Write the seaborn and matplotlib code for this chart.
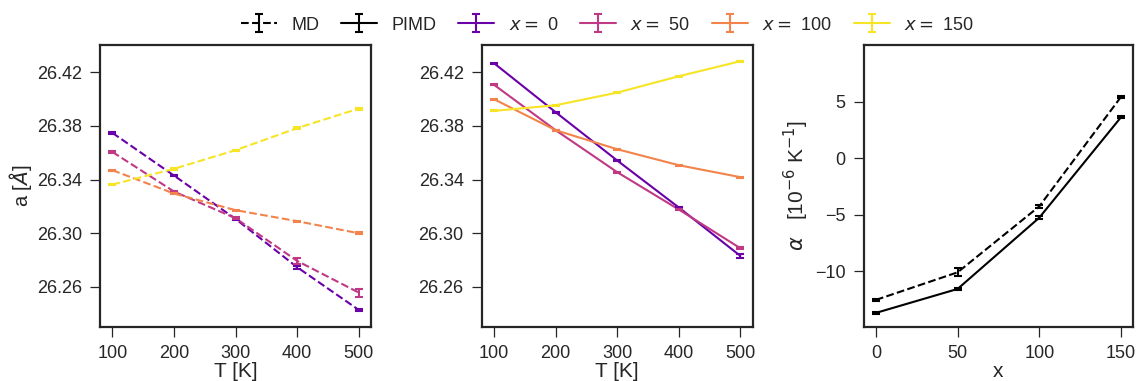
import numpy as np
import pandas as pd
import matplotlib
matplotlib.use("Agg")
import matplotlib.pyplot as plt
import seaborn as sns

# Temperatures and compositions
temps = [100, 200, 300, 400, 500]
compositions = [0, 50, 100, 150]

# Lattice parameter a [Å], classical MD
md_a = {
    0:   [26.3748, 26.3430, 26.3107, 26.2747, 26.2429],
    50:  [26.3606, 26.3311, 26.3112, 26.2794, 26.2558],
    100: [26.3470, 26.3296, 26.3172, 26.3090, 26.3000],
    150: [26.3363, 26.3480, 26.3619, 26.3783, 26.3929],
}
md_a_err = {
    0:   [0.0005, 0.0006, 0.0005, 0.0010, 0.0008],
    50:  [0.0005, 0.0006, 0.0006, 0.0025, 0.0030],
    100: [0.0004, 0.0004, 0.0004, 0.0004, 0.0006],
    150: [0.0004, 0.0005, 0.0005, 0.0006, 0.0008],
}

# Lattice parameter a [Å], path-integral MD
pimd_a = {
    0:   [26.4267, 26.3902, 26.3542, 26.3192, 26.2831],
    50:  [26.4106, 26.3768, 26.3455, 26.3177, 26.2888],
    100: [26.3999, 26.3768, 26.3626, 26.3507, 26.3418],
    150: [26.3912, 26.3954, 26.4048, 26.4170, 26.4282],
}
pimd_a_err = {
    0:   [0.0004, 0.0005, 0.0006, 0.0007, 0.0012],
    50:  [0.0004, 0.0004, 0.0004, 0.0005, 0.0006],
    100: [0.0004, 0.0004, 0.0004, 0.0004, 0.0004],
    150: [0.0004, 0.0004, 0.0004, 0.0004, 0.0005],
}

# Thermal expansion coefficient alpha [1e-6 / K]
alpha_md = [-12.52, -10.08, -4.24, 5.45]
alpha_md_err = [0.08, 0.35, 0.15, 0.12]
alpha_pimd = [-13.67, -11.55, -5.24, 3.65]
alpha_pimd_err = [0.08, 0.08, 0.12, 0.10]


def long_frame(values, errors):
    rows = []
    for c in compositions:
        for t, v, e in zip(temps, values[c], errors[c]):
            rows.append({"T": t, "x": c, "a": v, "err": e})
    return pd.DataFrame(rows)


df_md = long_frame(md_a, md_a_err)
df_pimd = long_frame(pimd_a, pimd_a_err)
df_alpha = pd.DataFrame({
    "x": compositions,
    "md": alpha_md, "md_err": alpha_md_err,
    "pimd": alpha_pimd, "pimd_err": alpha_pimd_err,
})

sns.set_theme(style="ticks")
plt.rcParams["font.family"] = ["Liberation Sans", "DejaVu Sans"]
plt.rcParams["mathtext.fontset"] = "dejavusans"

colors = [matplotlib.colors.to_hex(c) for c in plt.cm.plasma(np.linspace(0.2, 0.95, 4))]
palette = dict(zip(compositions, colors))

fig = plt.figure(figsize=(11.37, 3.81), dpi=100)
ax1 = fig.add_axes([0.088, 0.142, 0.2383, 0.741])
ax2 = fig.add_axes([0.4237, 0.142, 0.2383, 0.741])
ax3 = fig.add_axes([0.7596, 0.142, 0.2371, 0.741])

lw = 1.5
cap = 3.0
label_fs = 14.5

for ax, df, ls in [(ax1, df_md, "--"), (ax2, df_pimd, "-")]:
    sns.lineplot(data=df, x="T", y="a", hue="x", palette=palette,
                 linestyle=ls, linewidth=lw, legend=False, ax=ax)
    for c in compositions:
        sub = df[df["x"] == c]
        ax.errorbar(sub["T"], sub["a"], yerr=sub["err"], fmt="none",
                    ecolor=palette[c], elinewidth=lw, capsize=cap, capthick=lw)
    ax.set_ylim(26.2302, 26.4406)
    ax.set_yticks([26.26, 26.30, 26.34, 26.38, 26.42])
    ax.yaxis.set_major_formatter(matplotlib.ticker.FormatStrFormatter("%.2f"))
    ax.set_xticks(temps)
    ax.set_xlabel("T [K]", fontsize=15, labelpad=0)
    ax.set_ylabel("")

ax1.set_ylabel("a [$\\AA$]", fontsize=label_fs, labelpad=2)

sns.lineplot(data=df_alpha, x="x", y="md", color="black", linestyle="--",
             linewidth=lw, ax=ax3)
sns.lineplot(data=df_alpha, x="x", y="pimd", color="black", linestyle="-",
             linewidth=lw, ax=ax3)
ax3.errorbar(df_alpha["x"], df_alpha["md"], yerr=df_alpha["md_err"], fmt="none",
             ecolor="black", elinewidth=lw, capsize=cap, capthick=lw)
ax3.errorbar(df_alpha["x"], df_alpha["pimd"], yerr=df_alpha["pimd_err"], fmt="none",
             ecolor="black", elinewidth=lw, capsize=cap, capthick=lw)
ax3.set_ylim(-14.91, 10.08)
ax3.set_yticks([-10, -5, 0, 5])
ax3.set_xticks(compositions)
ax3.set_xlabel("x", fontsize=15, labelpad=0)
ax3.set_ylabel("$\\alpha$   [10$^{-6}$ K$^{-1}$]", fontsize=15, labelpad=3)

for ax in (ax1, ax2, ax3):
    ax.tick_params(labelsize=13, length=7, width=0.9, pad=6)
    for s in ax.spines.values():
        s.set_linewidth(1.6)
        s.set_color("#262626")

# Legend with error-bar style handles
handles = []
labels = []
h = ax3.errorbar([np.nan], [np.nan], yerr=[np.nan], color="black", linestyle="--",
                 linewidth=lw, capsize=cap, capthick=lw)
handles.append(h); labels.append("MD")
h = ax3.errorbar([np.nan], [np.nan], yerr=[np.nan], color="black", linestyle="-",
                 linewidth=lw, capsize=cap, capthick=lw)
handles.append(h); labels.append("PIMD")
for c in compositions:
    h = ax3.errorbar([np.nan], [np.nan], yerr=[np.nan], color=palette[c],
                     linewidth=lw, capsize=cap, capthick=lw)
    handles.append(h); labels.append(f"$x = $ {c}")

fig.legend(handles, labels, loc="center", bbox_to_anchor=(0.534, 0.934),
           ncol=6, frameon=False, fontsize=13, handlelength=2.0,
           columnspacing=1.2, handletextpad=0.8)

fig.savefig("out.png", dpi=100)
